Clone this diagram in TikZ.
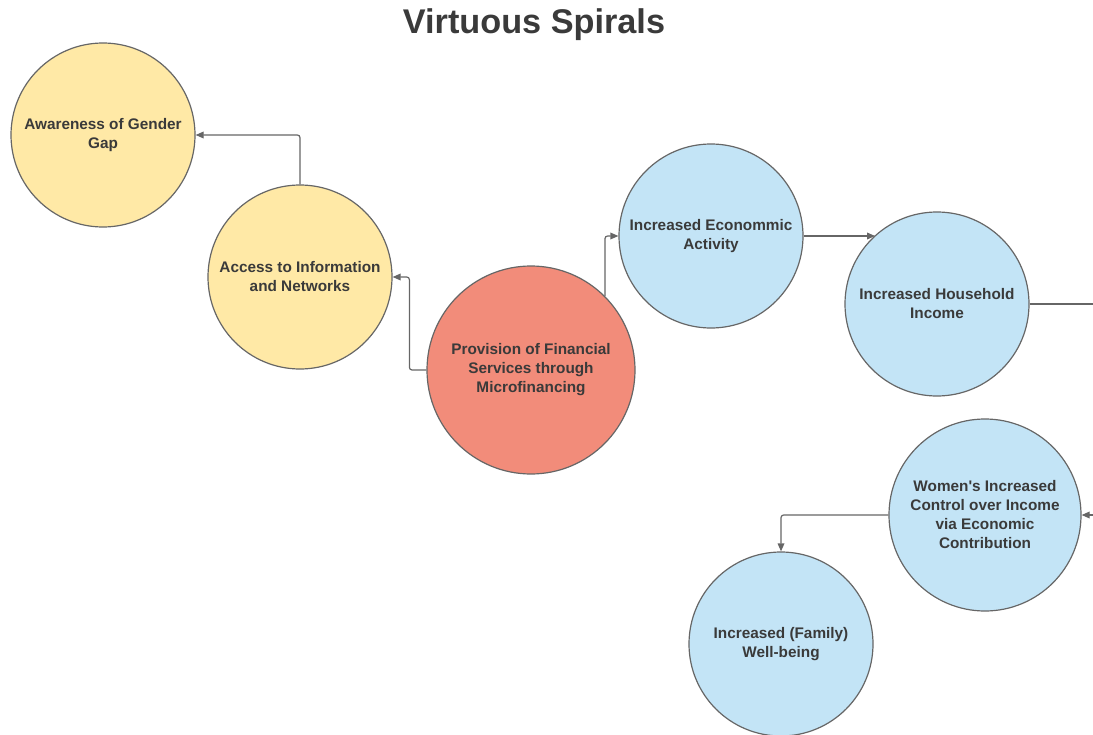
\documentclass[tikz,border=0pt]{standalone}
\usepackage{fontspec}
\setmainfont{Liberation Sans}
\usepackage{tikz}
\usetikzlibrary{arrows.meta}

\definecolor{txtgray}{HTML}{3A3A3A}
\definecolor{linegray}{HTML}{666666}
\definecolor{yellowfill}{HTML}{FFE9A6}
\definecolor{bluefill}{HTML}{C3E4F6}
\definecolor{redfill}{HTML}{F28C7A}

\tikzset{
  bubble/.style={circle, draw=linegray, line width=0.9pt, inner sep=0pt,
    minimum size=138pt, align=center, text=txtgray,
    font=\fontsize{11.5}{14.25}\selectfont\bfseries},
  yellowbubble/.style={bubble, fill=yellowfill},
  bluebubble/.style={bubble, fill=bluefill},
  redbubble/.style={bubble, fill=redfill, minimum size=156pt},
  conn/.style={draw=linegray, line width=0.9pt, rounded corners=2pt,
    -{Triangle[length=6pt,width=5pt]}},
}

\begin{document}
\begin{tikzpicture}[x=0.75pt, y=-0.75pt]
\clip (0,0) rectangle (1093,735);
% titulo
\node[text=txtgray, font=\fontsize{25.7}{30}\selectfont\bfseries] (title) at (534,25) {Virtuous Spirals};

% circulos
\node[yellowbubble] (aware) at (103,135) {Awareness of Gender\\Gap};
\node[yellowbubble] (access) at (300,277) {Access to Information\\and Networks};
\node[redbubble] (prov) at (531,370) {Provision of Financial\\Services through\\Microfinancing};
\node[bluebubble] (econ) at (711,236) {Increased Econommic\\Activity};
\node[bluebubble] (house) at (937,304) {Increased Household\\Income};
\node[bluebubble, minimum size=144pt] (women) at (985,515) {Women\textquotesingle s Increased\\Control over Income\\via Economic\\Contribution};
\node[bluebubble] (well) at (781,644) {Increased (Family)\\Well-being};

% bordes a la derecha
\coordinate (edgeA) at (1100,304);
\coordinate (edgeB) at (1100,515);

% flechas
\draw[conn] (access.north) |- (aware.east);
\draw[conn] (prov.west) -- ++(-17,0) |- (access.east);
\draw[conn] (prov.45) |- (econ.west);
\draw[conn] (econ.east) -- (econ.east -| house.132);
\draw[conn, -] (house.east) -- (edgeA);
\draw[conn] (edgeB) -- (women.east);
\draw[conn] (women.west) -| (well.north);
\end{tikzpicture}
\end{document}
